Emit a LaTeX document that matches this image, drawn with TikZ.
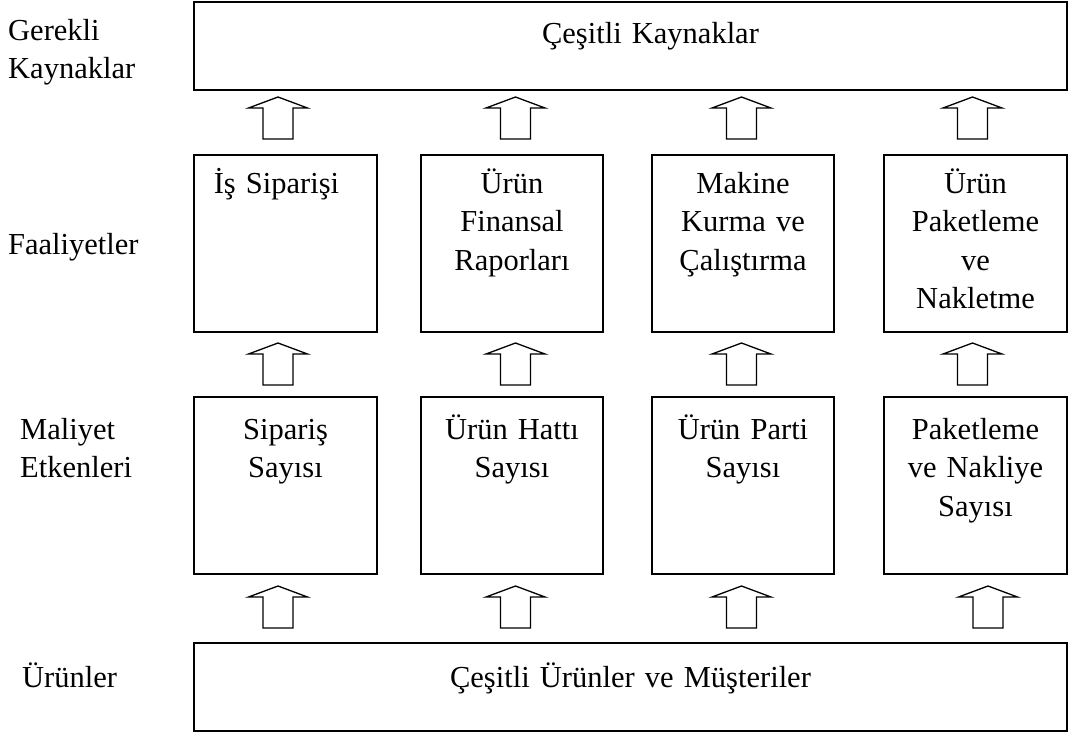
\documentclass[tikz,border=0pt]{standalone}
\usepackage{fontspec}
\setmainfont{Liberation Serif}[WordSpace=0.85]
\begin{document}
\begin{tikzpicture}[x=1pt,y=-1pt,
  txt/.style={font=\fontsize{30.5}{38.5}\selectfont},
  frame/.style={draw, line width=1.4pt, inner sep=0pt},
  boxtext/.style={txt, anchor=base, align=center, text width=#1, inner sep=0pt},
  sidetext/.style={txt, anchor=base west, align=left, text width=170pt, inner sep=0pt},
  uparr/.pic={\draw[line width=1.3pt, line join=miter]
      (0,0) -- (29.5,11) -- (15,11) -- (15,42) -- (-15,42) -- (-15,11) -- (-29.5,11) -- cycle;}]
\useasboundingbox (0,0) rectangle (1071,736);

% boxes
\node[frame, minimum width=873, minimum height=88] (res) at (630.5,46) {};
\foreach \n/\cx/\w in {1/285.5/183, 2/512/182, 3/743/182, 4/975.5/183}{
  \node[frame, minimum width=\w, minimum height=177] (act\n) at (\cx,243.5) {};
  \node[frame, minimum width=\w, minimum height=177] (drv\n) at (\cx,485.5) {};
}
\node[frame, minimum width=873, minimum height=88] (prd) at (630.5,687) {};

% box texts
\node[boxtext=860] (tres) at ([xshift=20pt]res.north |- 0,43) {Çeşitli Kaynaklar};
\node[boxtext=175] (tact1) at ([xshift=-9pt]act1.north |- 0,193) {İş Siparişi};
\node[boxtext=175] (tact2) at (act2.north |- 0,193) {Ürün\\Finansal\\Raporları};
\node[boxtext=175] (tact3) at (act3.north |- 0,193) {Makine\\Kurma ve\\Çalıştırma};
\node[boxtext=175] (tact4) at (act4.north |- 0,193) {Ürün\\Paketleme\\ve\\Nakletme};
\node[boxtext=175] (tdrv1) at (drv1.north |- 0,439) {Sipariş\\Sayısı};
\node[boxtext=175] (tdrv2) at (drv2.north |- 0,439) {Ürün Hattı\\Sayısı};
\node[boxtext=175] (tdrv3) at (drv3.north |- 0,439) {Ürün Parti\\Sayısı};
\node[boxtext=175] (tdrv4) at (drv4.north |- 0,439) {Paketleme\\ve Nakliye\\Sayısı};
\node[boxtext=860] (tprd) at (prd.north |- 0,687) {Çeşitli Ürünler ve Müşteriler};

% row labels
\node[sidetext] (lres) at (8,40) {Gerekli\\Kaynaklar};
\node[sidetext] (lact) at (8,254) {Faaliyetler};
\node[sidetext] (ldrv) at (20,439) {Maliyet\\Etkenleri};
\node[sidetext] (lprd) at (22,687) {Ürünler};

% block arrows between rows
\foreach \n/\ax in {1/278, 2/515.5, 3/741.5, 4/972.5}{
  \pic at (\ax,97) {uparr};
  \pic at (\ax,343) {uparr};
}
\foreach \n/\ax in {1/278, 2/515.5, 3/741.5, 4/988}{
  \pic at (\ax,586) {uparr};
}
\end{tikzpicture}
\end{document}
